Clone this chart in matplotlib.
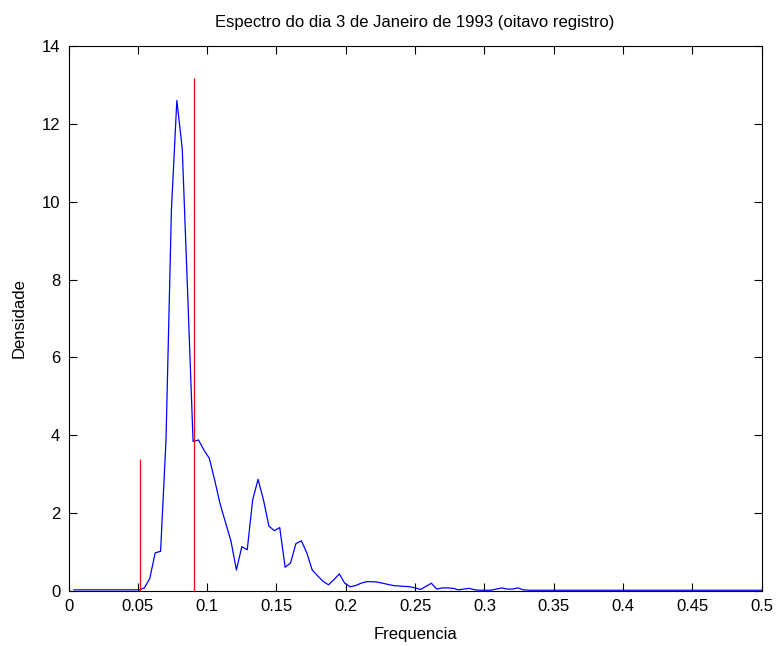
import numpy as np
import matplotlib
matplotlib.use("Agg")
import matplotlib.pyplot as plt

plt.rcParams["font.family"] = ["Liberation Sans", "DejaVu Sans"]

# frequency grid: k/256, k = 1..128
freq = np.arange(1, 129) / 256
dens = [
    0.03, 0.03, 0.03, 0.03, 0.03, 0.03, 0.03, 0.03, 0.03, 0.03,
    0.03, 0.03, 0.03, 0.08, 0.32, 0.98, 1.02, 3.88, 9.79, 12.6,
    11.36, 7.64, 3.84, 3.88, 3.62, 3.41, 2.84, 2.23, 1.76, 1.28,
    0.54, 1.14, 1.06, 2.34, 2.87, 2.34, 1.67, 1.55, 1.63, 0.61,
    0.72, 1.22, 1.29, 0.98, 0.54, 0.39, 0.25, 0.16, 0.29, 0.44,
    0.20, 0.11, 0.14, 0.20, 0.24, 0.24, 0.23, 0.20, 0.17, 0.14,
    0.13, 0.12, 0.11, 0.08, 0.04, 0.12, 0.20, 0.05, 0.08, 0.08,
    0.07, 0.03, 0.05, 0.07, 0.03, 0.02, 0.02, 0.02, 0.05, 0.08,
    0.05, 0.05, 0.08, 0.03, 0.02, 0.02, 0.02, 0.02, 0.02, 0.02,
    0.02, 0.02, 0.02, 0.02, 0.02, 0.02, 0.02, 0.02, 0.02, 0.02,
    0.02, 0.02, 0.02, 0.02, 0.02, 0.02, 0.02, 0.02, 0.02, 0.02,
    0.02, 0.02, 0.02, 0.02, 0.02, 0.02, 0.02, 0.02, 0.02, 0.02,
    0.02, 0.02, 0.02, 0.02, 0.02, 0.02, 0.02, 0.02,
]

# red markers (frequency, height)
mark_freq = [0.0516, 0.0908]
mark_height = [3.39, 13.18]

xticks = [0, 0.05, 0.1, 0.15, 0.2, 0.25, 0.3, 0.35, 0.4, 0.45, 0.5]
xticklabels = ["0", "0.05", "0.1", "0.15", "0.2", "0.25", "0.3", "0.35", "0.4", "0.45", "0.5"]
yticks = [0, 2, 4, 6, 8, 10, 12, 14]

fig = plt.figure(figsize=(7.77, 6.46), dpi=100)
ax = fig.add_axes([0.0882, 0.0851, 0.8921, 0.8437])

ax.plot(freq, dens, color="blue", lw=0.9)
ax.vlines(mark_freq, 0, mark_height, color="red", lw=0.9)

ax.set_xlim(0, 0.5)
ax.set_ylim(0, 14)
ax.set_xticks(xticks)
ax.set_xticklabels(xticklabels)
ax.set_yticks(yticks)
ax.tick_params(direction="in", length=5.5, width=0.8, labelsize=12,
               top=True, right=True, pad=6)
for s in ax.spines.values():
    s.set_linewidth(0.8)

ax.set_title("Espectro do dia 3 de Janeiro de 1993 (oitavo registro)", fontsize=12, pad=14)
ax.set_xlabel("Frequencia", fontsize=12, labelpad=9)
ax.set_ylabel("Densidade", fontsize=12, labelpad=11)

fig.savefig("out.png", dpi=100)
